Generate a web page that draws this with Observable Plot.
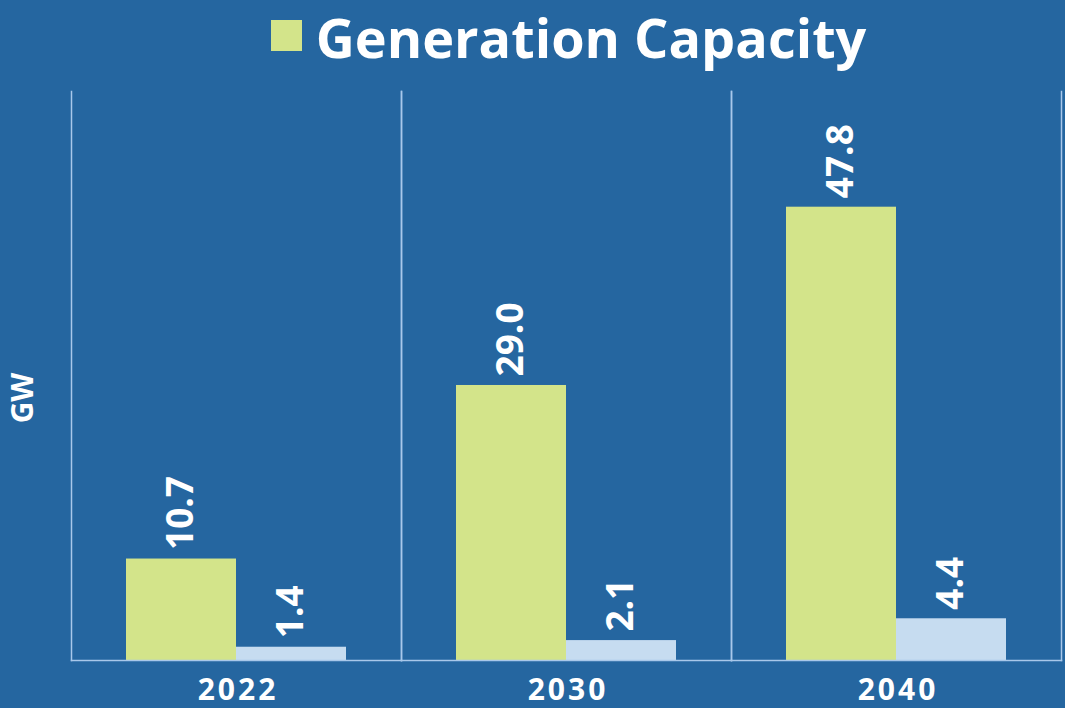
<!DOCTYPE html>
<html>
<head>
<meta charset="utf-8">
<script src="https://cdn.jsdelivr.net/npm/d3@7"></script>
<script src="https://cdn.jsdelivr.net/npm/@observablehq/plot@0.6"></script>
<style>
  html, body { margin: 0; padding: 0; background: #2566A0; width: 1065px; height: 708px; overflow: hidden; position: relative; }
  #title { height: 88px; display: flex; align-items: flex-start; justify-content: center; font-family: "Open Sans", sans-serif; font-weight: 700; font-size: 54px; line-height: 1; color: #fff; gap: 14px; padding-left: 72px; padding-top: 0px; box-sizing: border-box; }
  #title .sw { width: 31px; height: 31px; background: #D3E48A; display: inline-block; margin-top: 20px; flex: none; }
  #title .tx { line-height: normal; margin-top: 0px; }
  #ylab { position: absolute; left: 21px; top: 398px; transform: translate(-50%, -50%) rotate(-90deg); font-family: "Open Sans", sans-serif; font-weight: 700; font-size: 30px; color: #fff; line-height: normal; white-space: nowrap; }
  svg g[aria-label="fx-axis tick label"] text { letter-spacing: 3px; }
</style>
</head>
<body>
<div id="title"><span class="sw"></span><span class="tx">Generation Capacity</span></div>
<div id="chart"></div>
<div id="ylab"></div>
<script>
const years = ["2022", "2030", "2040"];
const generation = [10.7, 29.0, 47.8];
const other = [1.4, 2.1, 4.4];
const seriesNames = ["Generation Capacity", "Other"];
const seriesColors = ["#D3E48A", "#C6DCF0"];
const yLabel = "GW";

document.getElementById("ylab").textContent = yLabel;

const data = [];
years.forEach((y, i) => {
  data.push({year: y, series: seriesNames[0], value: generation[i]});
  data.push({year: y, series: seriesNames[1], value: other[i]});
});

const lineColor = "#A9C8EA";

const chart = Plot.plot({
  width: 1065,
  height: 620,
  marginTop: 3,
  marginBottom: 48,
  marginLeft: 70,
  marginRight: 4,
  style: {background: "#2566A0", color: "#fff", fontFamily: "Open Sans, sans-serif"},
  fx: {domain: years, padding: 0, label: null},
  x: {domain: seriesNames, paddingInner: 0, paddingOuter: 0.5, axis: null},
  y: {domain: [0, 60], axis: null},
  color: {domain: seriesNames, range: seriesColors},
  marks: [
    Plot.barY(data, {fx: "year", x: "series", y: "value", fill: "series", inset: 0}),
    Plot.frame({anchor: "left", stroke: lineColor, strokeOpacity: 1, strokeWidth: 1.5}),
    Plot.frame({anchor: "right", stroke: lineColor, strokeOpacity: 1, strokeWidth: 1.5}),
    Plot.frame({anchor: "bottom", stroke: lineColor, strokeOpacity: 1, strokeWidth: 1.5}),
    Plot.text(data, {fx: "year", x: "series", y: "value", text: d => d.value.toFixed(1),
      rotate: -90, textAnchor: "start", dy: -9, fill: "#fff", fontSize: 37, fontWeight: "bold"}),
    Plot.axisFx({anchor: "bottom", tickSize: 0, tickPadding: 18, dx: 1.5, fontSize: 30, fontWeight: "bold", label: null, color: "#fff"})
  ]
});
document.getElementById("chart").appendChild(chart);
</script>
</body>
</html>
